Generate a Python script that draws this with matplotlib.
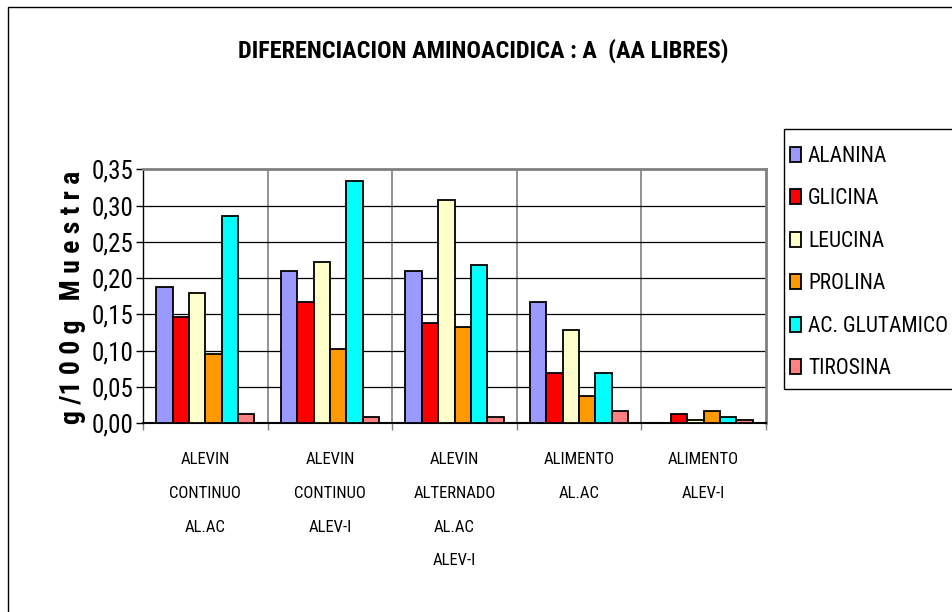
import matplotlib
matplotlib.use("Agg")
import numpy as np
import matplotlib.pyplot as plt
import matplotlib.patches as mpatches
from matplotlib.ticker import FuncFormatter, FixedLocator

# Datos (g/100g muestra)
grupos = ["ALEVIN\nCONTINUO\nAL.AC", "ALEVIN\nCONTINUO\nALEV-I",
          "ALEVIN\nALTERNADO\nAL.AC\nALEV-I", "ALIMENTO\nAL.AC", "ALIMENTO\nALEV-I"]
aminoacidos = ["ALANINA", "GLICINA", "LEUCINA", "PROLINA", "AC. GLUTAMICO", "TIROSINA"]

alanina   = [0.188, 0.210, 0.210, 0.167, 0.000]
glicina   = [0.146, 0.167, 0.138, 0.069, 0.013]
leucina   = [0.180, 0.222, 0.308, 0.128, 0.004]
prolina   = [0.095, 0.103, 0.133, 0.038, 0.017]
glutamico = [0.286, 0.334, 0.218, 0.069, 0.009]
tirosina  = [0.013, 0.009, 0.009, 0.017, 0.004]

series  = [alanina, glicina, leucina, prolina, glutamico, tirosina]
colores = ["#9999FF", "#FF0000", "#FFFFCC", "#FF9900", "#00FFFF", "#FF8080"]

FUENTE = ["Roboto Condensed", "DejaVu Sans"]
plt.rcParams["font.family"] = FUENTE

W, H = 952, 612
fig = plt.figure(figsize=(W / 100, H / 100), dpi=100)
fig.patch.set_facecolor("white")

# Marco exterior del grafico
fig.patches.append(mpatches.Rectangle((8 / W, -0.1), 1.2, (H - 7) / H + 0.1,
                                      transform=fig.transFigure, fill=False,
                                      edgecolor="black", lw=1.0))

ax = fig.add_axes([143 / W, 1 - 423.3 / H, (766 - 143) / W, (423.3 - 169.3) / H])

x = np.arange(len(grupos))
w = 0.1315
for j, (vals, col, nombre) in enumerate(zip(series, colores, aminoacidos)):
    ax.bar(x + (j - 2.5) * w, vals, width=w, color=col, edgecolor="black",
           linewidth=1.3, label=nombre, zorder=3)

ax.set_xlim(-0.5, len(grupos) - 0.5)
ax.set_ylim(0, 0.35)
ax.yaxis.set_major_locator(FixedLocator(np.arange(0, 0.351, 0.05)))
ax.yaxis.set_major_formatter(FuncFormatter(lambda v, p: f"{v:.2f}".replace(".", ",")))
ax.tick_params(axis="y", labelsize=18, length=5, width=1, pad=2)

# Lineas de division entre grupos
ax.set_xticks(np.arange(-0.5, len(grupos)), minor=False)
ax.set_xticklabels([])
ax.tick_params(axis="x", length=5, width=1, color="#808080")
for b in np.arange(0.5, len(grupos) - 0.5):
    ax.axvline(b, color="#808080", lw=1.2, zorder=1)
for v in np.arange(0.05, 0.35, 0.05):
    ax.axhline(v, color="black", lw=0.9, zorder=1)

for i, g in enumerate(grupos):
    ax.text(i, -0.039, g, ha="center", va="top", fontsize=12,
            linespacing=2.58, transform=ax.transData)

for s in ["top", "right"]:
    ax.spines[s].set_color("#808080")
    ax.spines[s].set_linewidth(2)
ax.spines["left"].set_linewidth(1)
ax.spines["bottom"].set_linewidth(1.5)

fig.text(483 / W, 1 - 51 / H, "DIFERENCIACION AMINOACIDICA : A  (AA LIBRES)",
         ha="center", va="center", fontsize=17.5, fontweight="bold")
fig.text(72 / W, 1 - 297 / H, "g /1 0 0 g   M u e s t r a", rotation=90,
         ha="center", va="center", fontsize=20, fontweight="bold")

# Leyenda
fig.patches.append(mpatches.Rectangle((784 / W, 1 - 389 / H), 0.3, (389 - 129) / H,
                                      transform=fig.transFigure, fill=True,
                                      facecolor="white", edgecolor="black", lw=1.0))
leg = fig.legend(loc="upper left", bbox_to_anchor=(781 / W, 1 - 137 / H),
                 frameon=False, fontsize=15.5, handlelength=0.55, handleheight=0.7,
                 handletextpad=0.3, labelspacing=1.0, borderaxespad=0)
for h in leg.legend_handles:
    h.set_linewidth(1.3)

fig.savefig("out.png", dpi=100)
